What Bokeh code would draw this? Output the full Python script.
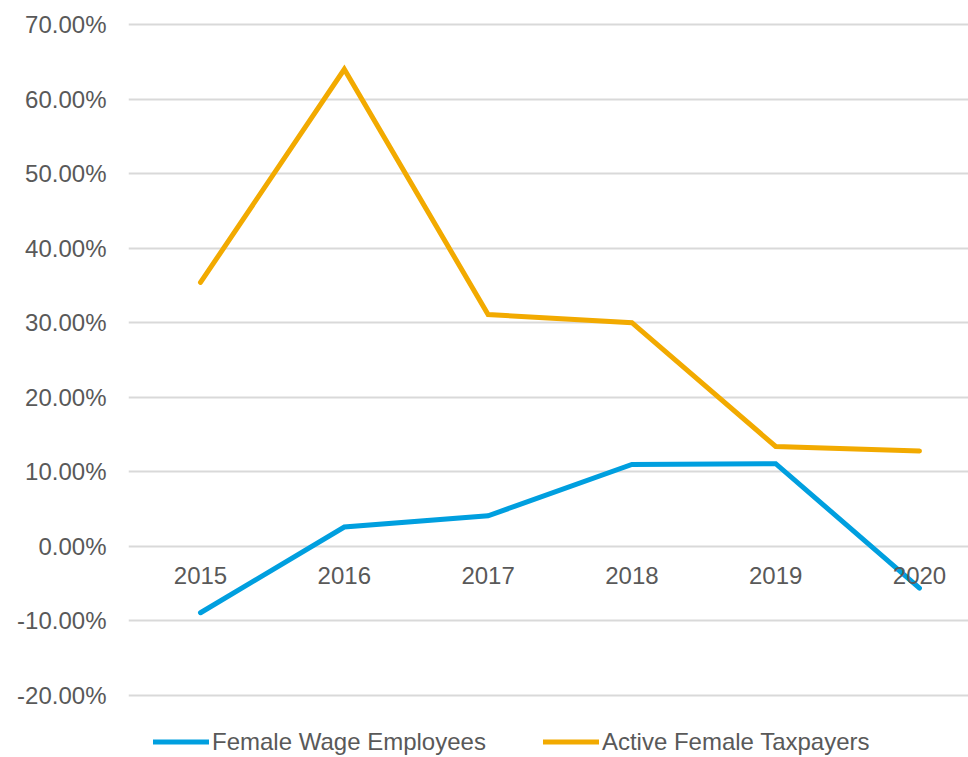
from bokeh.plotting import figure
from bokeh.models import (Range1d, FixedTicker, NumeralTickFormatter, Legend,
                          LegendItem, ColumnDataSource)
from bokeh.core.properties import value
from bokeh.embed import file_html
from bokeh.resources import INLINE

# ---- data ----
years = [2015, 2016, 2017, 2018, 2019, 2020]
year_labels = ["2015", "2016", "2017", "2018", "2019", "2020"]
wage_employees = [-0.089, 0.026, 0.041, 0.110, 0.111, -0.056]
female_taxpayers = [0.354, 0.640, 0.311, 0.300, 0.134, 0.128]
y_ticks = [-0.2, -0.1, 0.0, 0.1, 0.2, 0.3, 0.4, 0.5, 0.6, 0.7]
series_names = ["Female Wage Employees", "Active Female Taxpayers"]

FONT = "Liberation Sans"
TXT = "#595959"
BLUE = "#009FDF"
ORANGE = "#F2AA00"
FS = "24px"

p = figure(width=968, height=757, output_backend="svg", toolbar_location=None,
           x_range=Range1d(2014.4993, 2020.3408),
           y_range=Range1d(-0.28316, 0.73219),
           x_axis_location=None,
           min_border_left=128, min_border_right=0,
           min_border_top=0, min_border_bottom=0)
p.outline_line_color = None
p.background_fill_color = "white"
p.border_fill_color = "white"

p.xgrid.visible = False
p.yaxis.ticker = FixedTicker(ticks=y_ticks)
p.yaxis.formatter = NumeralTickFormatter(format="0.00%")
p.yaxis.axis_line_color = None
p.yaxis.major_tick_line_color = None
p.yaxis.minor_tick_line_color = None
p.yaxis.major_tick_out = 0
p.yaxis.major_tick_in = 0
p.yaxis.major_label_standoff = 22
p.yaxis.major_label_text_font = FONT
p.yaxis.major_label_text_font_size = FS
p.yaxis.major_label_text_color = TXT
p.ygrid.grid_line_color = "#D9D9D9"
p.ygrid.grid_line_width = 2

src = ColumnDataSource(dict(x=years, wage=wage_employees, tax=female_taxpayers,
                            lab=year_labels, zero=[0.0] * len(years)))

r_tax = p.line("x", "tax", source=src, line_width=5, line_color=ORANGE,
               line_cap="round", line_join="miter")
r_wage = p.line("x", "wage", source=src, line_width=5, line_color=BLUE,
                line_cap="round", line_join="miter")

p.text("x", "zero", text="lab", source=src, text_align="center",
       text_baseline="middle", y_offset=29,
       text_font=value(FONT), text_font_size=FS, text_color=TXT)

legend = Legend(items=[LegendItem(label=series_names[0], renderers=[r_wage]),
                       LegendItem(label=series_names[1], renderers=[r_tax])],
                location=(25, 1.5), orientation="horizontal",
                glyph_width=56, glyph_height=27, label_height=27,
                label_standoff=3, spacing=57, padding=0, margin=0,
                border_line_color=None, background_fill_alpha=0,
                label_text_font=FONT, label_text_font_size=FS,
                label_text_color=TXT)
p.add_layout(legend)

open("out.html", "w").write(file_html(p, INLINE))
